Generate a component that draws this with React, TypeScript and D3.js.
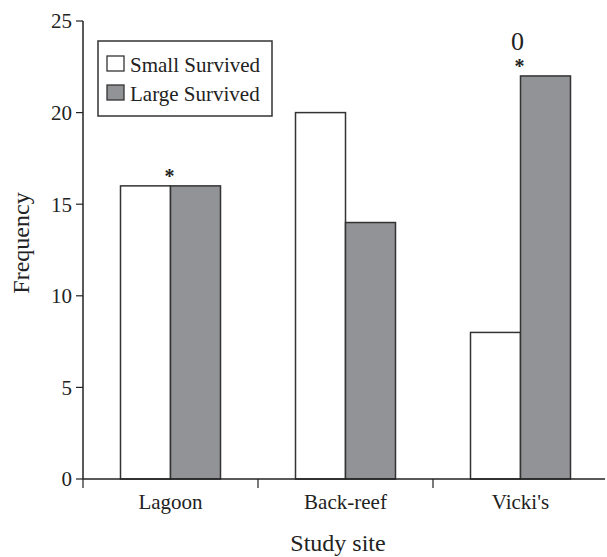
import React from 'react';
import * as d3 from 'd3';

const sites = ['Lagoon', 'Back-reef', "Vicki's"];
const series = ['Small Survived', 'Large Survived'];
const smallSurvived = [16, 20, 8];
const largeSurvived = [16, 14, 22];
const yTicks = [0, 5, 10, 15, 20, 25];
// annotations above the groups: [site index, series index, text]
const stars = [[0, 1, '*'], [2, 1, '*']];
const zeroNotes = [[2, 1, '0']];

const width = 607;
const height = 557;
const margin = { top: 21, right: 2, bottom: 78, left: 83 };
const fill = ['#ffffff', '#929396'];
const font = '"Liberation Serif", "Times New Roman", serif';

const App = () => {
  const innerW = width - margin.left - margin.right;
  const innerH = height - margin.top - margin.bottom;

  const x = d3.scaleBand().domain(sites).range([0, 525]).padding(0);
  const inner = d3.scaleBand().domain(series).range([0, 100]);
  const y = d3.scaleLinear().domain([0, 25]).range([innerH, 0]);

  const values = [smallSurvived, largeSurvived];
  const groupX = (s: string) => x(s)! + (x.bandwidth() - 100) / 2;

  return (
    <svg width={width} height={height} style={{ position: 'absolute', left: 0, top: 0 }} fontFamily={font}>
      <g transform={`translate(${margin.left},${margin.top})`}>
        {/* bars */}
        {sites.map((s, i) =>
          series.map((ser, j) => (
            <rect
              key={s + ser}
              x={groupX(s) + inner(ser)!}
              y={y(values[j][i])}
              width={inner.bandwidth()}
              height={innerH - y(values[j][i])}
              fill={fill[j]}
              stroke="#333"
              strokeWidth={1.5}
            />
          ))
        )}
        {/* y axis */}
        <line x1={0} x2={0} y1={0} y2={innerH} stroke="#222" strokeWidth={1.5} />
        {yTicks.map(t => (
          <g key={t} transform={`translate(0,${y(t)})`}>
            <line x1={-7} x2={0} stroke="#222" strokeWidth={1.2} />
            <text x={-11} dy="0.35em" textAnchor="end" fontSize={21} fill="#222">{t}</text>
          </g>
        ))}
        {/* x axis */}
        <line x1={0} x2={innerW} y1={innerH} y2={innerH} stroke="#222" strokeWidth={1.5} />
        {[0, 1, 2].map(i => (
          <line key={i} x1={x.step() * i} x2={x.step() * i} y1={innerH} y2={innerH + 9} stroke="#222" strokeWidth={1.2} />
        ))}
        {sites.map(s => (
          <text key={s} x={x(s)! + x.bandwidth() / 2} y={innerH + 30} textAnchor="middle" fontSize={21} fill="#222">{s}</text>
        ))}
        {/* annotations */}
        {stars.map(([i, j, t]) => {
          const s = sites[i as number];
          const cx = groupX(s) + inner(series[j as number])!;
          return (
            <text key={'st' + i} x={cx - 1} y={y(values[j as number][i as number]) - 3} textAnchor="middle" fontSize={20} fontWeight="bold" fill="#222">{t}</text>
          );
        })}
        {zeroNotes.map(([i, j, t]) => {
          const s = sites[i as number];
          const cx = groupX(s) + inner(series[j as number])!;
          return (
            <text key={'z' + i} x={cx - 3} y={y(values[j as number][i as number]) - 26} textAnchor="middle" fontSize={26} fill="#222">{t}</text>
          );
        })}
        {/* legend */}
        <g transform="translate(15,20)">
          <rect width={174} height={75} fill="#fff" stroke="#333" strokeWidth={1.5} />
          {series.map((ser, j) => (
            <g key={ser} transform={`translate(9,${15 + j * 29})`}>
              <rect width={17} height={15} fill={fill[j]} stroke="#333" strokeWidth={1.3} />
              <text x={23} y={15.5} fontSize={21} fill="#222">{ser}</text>
            </g>
          ))}
        </g>
      </g>
      <text x={338} y={551} textAnchor="middle" fontSize={24} fill="#222">Study site</text>
      <text transform="translate(29,243) rotate(-90)" textAnchor="middle" fontSize={24} fill="#222">Frequency</text>
    </svg>
  );
};

export default App;
